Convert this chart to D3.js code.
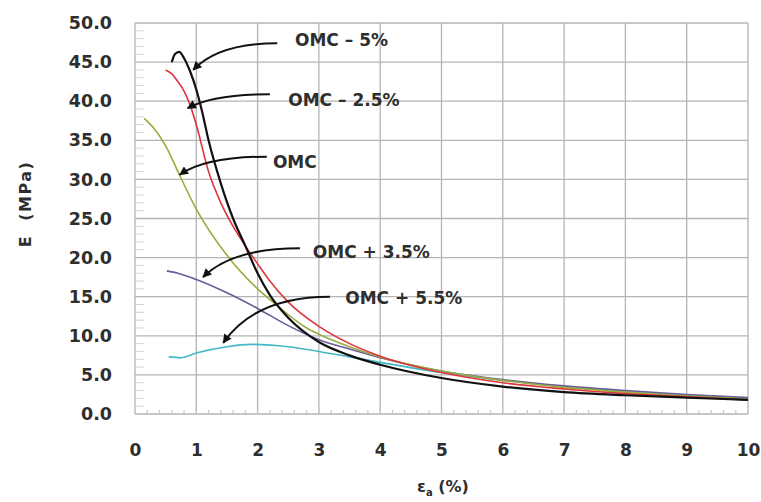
<!DOCTYPE html>
<html>
<head>
<meta charset="utf-8">
<script src="https://cdn.jsdelivr.net/npm/d3@7"></script>
<style>
  body { margin: 0; background: #fff; }
  svg { display: block; }
  text { font-family: "DejaVu Sans", sans-serif; font-weight: bold; fill: #2e2e2e; }
</style>
</head>
<body>
<svg width="761" height="502"></svg>
<script>
var svg = d3.select("svg");

// data
var xTicks = [0, 1, 2, 3, 4, 5, 6, 7, 8, 9, 10];
var yTicks = [0, 5, 10, 15, 20, 25, 30, 35, 40, 45, 50];

var omcMinus5X = [0.6, 0.65, 0.72, 0.8, 0.9, 1.0, 1.1, 1.2, 1.4, 1.6, 1.8, 2.0, 2.2, 2.5, 3.0, 3.5, 4, 5, 6, 7, 8, 9, 10];
var omcMinus5Y = [45.0, 46.0, 46.3, 45.5, 43.8, 41.5, 38.5, 35.0, 29.5, 25.0, 21.5, 18.0, 15.2, 12.3, 9.2, 7.5, 6.3, 4.6, 3.5, 2.8, 2.4, 2.1, 1.8];

var omcMinus25X = [0.5, 0.6, 0.7, 0.8, 0.9, 1.0, 1.2, 1.4, 1.6, 1.8, 2.0, 2.2, 2.5, 3.0, 3.5, 4, 5, 6, 7, 8, 9, 10];
var omcMinus25Y = [44.0, 43.5, 42.5, 41.3, 39.5, 37.0, 31.0, 27.0, 24.0, 21.5, 19.2, 17.0, 14.3, 11.2, 9.0, 7.4, 5.3, 4.0, 3.2, 2.6, 2.2, 1.8];

var omcX = [0.15, 0.3, 0.5, 0.73, 1.0, 1.5, 2.0, 2.3, 2.8, 3.0, 3.5, 4, 5, 6, 7, 8, 9, 10];
var omcY = [37.8, 36.6, 34.3, 30.5, 26.2, 20.3, 16.0, 14.0, 11.0, 10.2, 8.6, 7.3, 5.5, 4.3, 3.4, 2.8, 2.3, 1.9];

var omcPlus35X = [0.52, 0.7, 1.0, 1.5, 2.0, 2.5, 3.0, 3.5, 4, 5, 6, 7, 8, 9, 10];
var omcPlus35Y = [18.3, 18.0, 17.2, 15.5, 13.5, 11.3, 9.5, 8.3, 7.2, 5.5, 4.4, 3.6, 3.0, 2.5, 2.1];

var omcPlus55X = [0.55, 0.75, 1.0, 1.5, 1.9, 2.5, 3.0, 3.5, 4, 5, 6, 7, 8, 9, 10];
var omcPlus55Y = [7.3, 7.2, 7.8, 8.6, 8.9, 8.6, 8.0, 7.3, 6.6, 5.3, 4.3, 3.5, 2.9, 2.4, 2.0];

var seriesNames = ["OMC \u2013 5%", "OMC \u2013 2.5%", "OMC", "OMC + 3.5%", "OMC + 5.5%"];
var seriesColors = ["#111111", "#e0353d", "#97ad3c", "#6c5b9c", "#43b8c6"];
var seriesX = [omcMinus5X, omcMinus25X, omcX, omcPlus35X, omcPlus55X];
var seriesY = [omcMinus5Y, omcMinus25Y, omcY, omcPlus35Y, omcPlus55Y];

// annotation arrows in data units: where the leader starts, where it points, where the label sits
var arrowStart = [[2.32, 47.4], [2.2, 40.9], [2.15, 32.9], [2.69, 21.2], [3.18, 15.0]];
var arrowTip = [[0.95, 44.0], [0.86, 39.1], [0.73, 30.6], [1.11, 17.5], [1.44, 9.1]];
var labelPos = [[2.61, 47.9], [2.5, 40.2], [2.25, 32.2], [2.9, 20.7], [3.43, 14.8]];

var margin = {left: 135, right: 13, top: 23, bottom: 88};
var plotW = 761 - margin.left - margin.right;
var plotH = 502 - margin.top - margin.bottom;

var x = d3.scaleLinear().domain([0, 10]).range([margin.left, margin.left + plotW]);
var y = d3.scaleLinear().domain([0, 50]).range([margin.top + plotH, margin.top]);

// grid
var grid = svg.append("g").attr("class", "grid");
grid.selectAll("line.v")
    .data(xTicks)
    .enter()
    .append("line")
    .attr("x1", function(d) { return x(d); })
    .attr("x2", function(d) { return x(d); })
    .attr("y1", y(0))
    .attr("y2", y(50))
    .attr("stroke", "#b4b4b4")
    .attr("stroke-width", 1.3);
grid.selectAll("line.h")
    .data(yTicks)
    .enter()
    .append("line")
    .attr("x1", x(0))
    .attr("x2", x(10))
    .attr("y1", function(d) { return y(d); })
    .attr("y2", function(d) { return y(d); })
    .attr("stroke", "#b4b4b4")
    .attr("stroke-width", 1.3);

// minor ticks (inside the plot)
var minorY = d3.range(0, 50.01, 1).filter(function(d) { return d % 5 != 0; });
var minorX = d3.range(0, 10.01, 0.2);
svg.append("g")
   .selectAll("line")
   .data(minorY)
   .enter()
   .append("line")
   .attr("x1", x(0))
   .attr("x2", x(0) + 9)
   .attr("y1", function(d) { return y(d); })
   .attr("y2", function(d) { return y(d); })
   .attr("stroke", "#d4d4d4")
   .attr("stroke-width", 1);
svg.append("g")
   .selectAll("line")
   .data(minorX)
   .enter()
   .append("line")
   .attr("x1", function(d) { return x(d); })
   .attr("x2", function(d) { return x(d); })
   .attr("y1", y(0))
   .attr("y2", y(0) - 4)
   .attr("stroke", "#c8c8c8")
   .attr("stroke-width", 1.2);

// axes, labels only
var yAxis = d3.axisLeft(y).tickValues(yTicks).tickFormat(d3.format(".1f")).tickSize(0).tickPadding(23);
var xAxis = d3.axisBottom(x).tickValues(xTicks).tickFormat(d3.format("d")).tickSize(0).tickPadding(30);
svg.append("g")
   .attr("transform", "translate(" + margin.left + ",0)")
   .call(yAxis)
   .call(function(g) { g.select(".domain").remove(); })
   .selectAll("text")
   .style("font-size", "17.5px")
   .style("font-family", "DejaVu Sans");
svg.append("g")
   .attr("transform", "translate(0," + (margin.top + plotH) + ")")
   .call(xAxis)
   .call(function(g) { g.select(".domain").remove(); })
   .selectAll("text")
   .style("font-size", "17px")
   .style("font-family", "DejaVu Sans");

// axis titles
svg.append("text")
   .attr("transform", "translate(31,204) rotate(-90)")
   .attr("text-anchor", "middle")
   .style("font-size", "16px")
   .style("letter-spacing", "1.5px")
   .text("E\u00a0\u00a0(MPa)");

var xt = svg.append("text")
   .attr("x", 443)
   .attr("y", 492)
   .attr("text-anchor", "middle")
   .style("font-size", "16px");
xt.append("tspan").text("\u03b5");
xt.append("tspan").attr("dy", 4).style("font-size", "10px").text("a");
xt.append("tspan").attr("dy", -4).text(" (%)");

// curves
var line = d3.line()
    .x(function(d) { return x(d[0]); })
    .y(function(d) { return y(d[1]); })
    .curve(d3.curveMonotoneX);

for (var i = seriesX.length - 1; i >= 0; i--) {
    var pts = d3.zip(seriesX[i], seriesY[i]);
    svg.append("path")
       .datum(pts)
       .attr("d", line)
       .attr("fill", "none")
       .attr("stroke", seriesColors[i])
       .attr("stroke-width", i == 0 ? 2.2 : 1.6);
}

// arrow marker
svg.append("defs")
   .append("marker")
   .attr("id", "arrow")
   .attr("viewBox", "0 0 10 10")
   .attr("refX", 9)
   .attr("refY", 5)
   .attr("markerWidth", 12)
   .attr("markerHeight", 9)
   .attr("markerUnits", "userSpaceOnUse")
   .attr("orient", "auto")
   .append("path")
   .attr("d", "M0,0 L10,5 L0,10 Z")
   .attr("fill", "#111");

// annotation arrows and labels
for (var i = 0; i < arrowStart.length; i++) {
    var sx = x(arrowStart[i][0]), sy = y(arrowStart[i][1]);
    var tx = x(arrowTip[i][0]), ty = y(arrowTip[i][1]);
    var cx = tx + (sx - tx) * 0.3;
    svg.append("path")
       .attr("d", "M" + sx + "," + sy + " Q" + cx + "," + sy + " " + tx + "," + ty)
       .attr("fill", "none")
       .attr("stroke", "#111")
       .attr("stroke-width", 2)
       .attr("marker-end", "url(#arrow)");

    svg.append("text")
       .attr("x", x(labelPos[i][0]))
       .attr("y", y(labelPos[i][1]))
       .attr("dy", "0.36em")
       .style("font-size", "17px")
       .text(seriesNames[i]);
}
</script>
</body>
</html>
